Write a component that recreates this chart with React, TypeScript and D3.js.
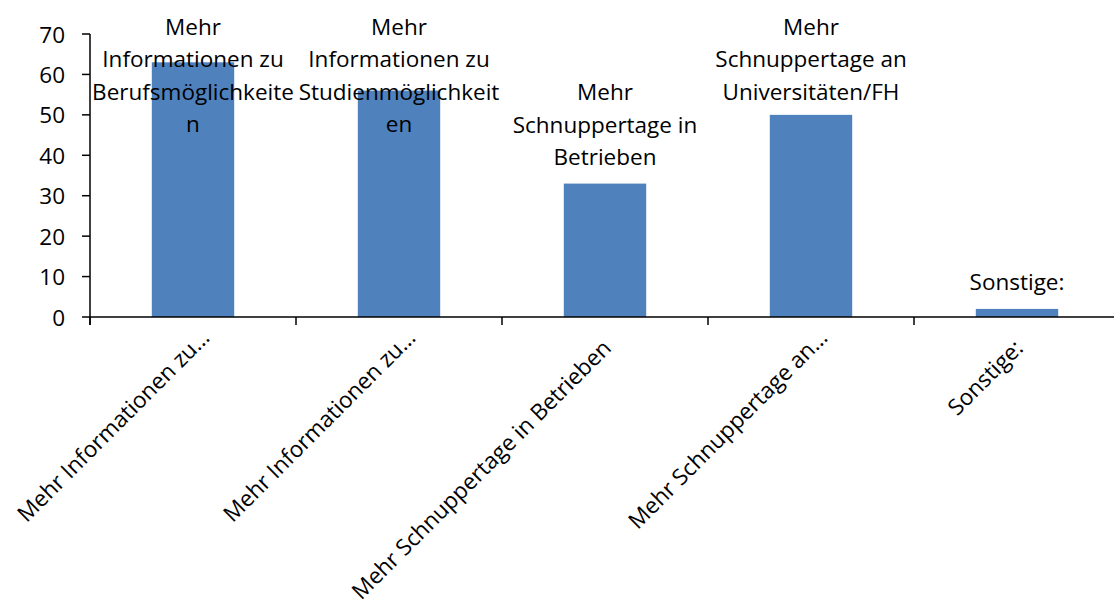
import React from "react";
import * as d3 from "d3";

const categories = [
  "Mehr Informationen zu…",
  "Mehr Informationen zu…",
  "Mehr Schnuppertage in Betrieben",
  "Mehr Schnuppertage an…",
  "Sonstige:",
];
const values = [63, 56, 33, 50, 2];
const barLabelLines = [
  ["Mehr", "Informationen zu", "Berufsmöglichkeite", "n"],
  ["Mehr", "Informationen zu", "Studienmöglichkeit", "en"],
  ["Mehr", "Schnuppertage in", "Betrieben"],
  ["Mehr", "Schnuppertage an", "Universitäten/FH"],
  ["Sonstige:"],
];
const yTicks = [0, 10, 20, 30, 40, 50, 60, 70];

const W = 1114;
const H = 610;
const FONT = "'Open Sans', sans-serif";
const FS = 22.5;

export default function App() {
  const x0 = 90;
  const x1 = 1120;
  const y0 = 317;
  const yTop = 34;
  const x = d3
    .scaleBand<number>()
    .domain(d3.range(categories.length))
    .range([x0, x1])
    .paddingInner(0.6)
    .paddingOuter(0.3);
  const y = d3.scaleLinear().domain([0, 70]).range([y0, yTop]);
  const step = x.step();
  const lineH = 32.5;

  return (
    <svg
      width={W}
      height={H}
      style={{ position: "absolute", left: 0, top: 0, background: "#fff" }}
      fontFamily={FONT}
    >
      {values.map((v, i) => (
        <rect
          key={i}
          x={x(i)}
          y={y(v)}
          width={x.bandwidth()}
          height={y0 - y(v)}
          fill="#4F81BD"
        />
      ))}
      {/* y axis */}
      <line x1={x0} x2={x0} y1={yTop} y2={y0 + 8} stroke="#000" strokeWidth={1.5} />
      {yTicks.map((t) => (
        <g key={t}>
          <line x1={x0 - 8} x2={x0} y1={y(t)} y2={y(t)} stroke="#000" strokeWidth={1.5} />
          <text
            x={65}
            y={y(t)}
            textAnchor="end"
            dominantBaseline="central"
            fontSize={FS}
            fill="#000"
          >
            {t}
          </text>
        </g>
      ))}
      {/* x axis */}
      <line x1={x0} x2={W} y1={y0} y2={y0} stroke="#000" strokeWidth={1.5} />
      {d3.range(categories.length + 1).map((i) => (
        <line
          key={i}
          x1={x0 + i * step}
          x2={x0 + i * step}
          y1={y0}
          y2={y0 + 8}
          stroke="#000"
          strokeWidth={1.5}
        />
      ))}
      {/* bar labels */}
      {barLabelLines.map((lines, i) => {
        const cx = (x(i) as number) + x.bandwidth() / 2;
        let last = y(values[i]) - 27;
        let first = last - (lines.length - 1) * lineH;
        if (first < 26) first = 26;
        return (
          <text key={i} textAnchor="middle" fontSize={FS} fill="#000">
            {lines.map((l, j) => (
              <tspan key={j} x={cx} y={first + j * lineH} dominantBaseline="central">
                {l}
              </tspan>
            ))}
          </text>
        );
      })}
      {/* category labels */}
      {categories.map((c, i) => {
        const cx = (x(i) as number) + x.bandwidth() / 2;
        const back = c.endsWith("…") ? 0 : -15;
        return (
          <text
            key={i}
            transform={`translate(${cx + 18},${y0 + 22}) rotate(-45)`}
            x={back}
            textAnchor="end"
            fontSize={FS}
            fill="#000"
          >
            {c}
          </text>
        );
      })}
    </svg>
  );
}
